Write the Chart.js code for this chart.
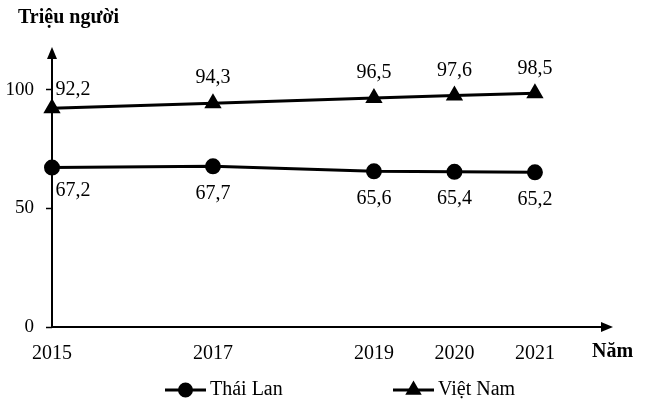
<!DOCTYPE html>
<html>
<head>
<meta charset="utf-8">
<script src="https://cdn.jsdelivr.net/npm/chart.js@4.4.0/dist/chart.umd.min.js"></script>
<style>
html,body{margin:0;padding:0;background:#fff;}
#wrap{width:649px;height:404px;position:relative;}
</style>
</head>
<body>
<div id="wrap"><canvas id="c" width="649" height="404"></canvas></div>
<script>
// ---- data ----
const years = [2015, 2017, 2019, 2020, 2021];
const thaiLan = [67.2, 67.7, 65.6, 65.4, 65.2];
const vietNam = [92.2, 94.3, 96.5, 97.6, 98.5];
const yTicks = [0, 50, 100];
const seriesNames = ['Thái Lan', 'Việt Nam'];
const yTitle = 'Triệu người';
const xTitle = 'Năm';

const FONT = '"Liberation Serif", "Times New Roman", serif';
const fmt = v => v.toFixed(1).replace('.', ',');

const axesPlugin = {
  id: 'axesArrows',
  afterDatasetsDraw(chart) {
    const ctx = chart.ctx, a = chart.chartArea;
    const x0 = a.left, y0 = a.bottom;
    ctx.save();
    ctx.strokeStyle = '#000'; ctx.fillStyle = '#000'; ctx.lineWidth = 2;
    ctx.beginPath();
    ctx.moveTo(x0, y0); ctx.lineTo(x0, a.top + 8);
    ctx.moveTo(x0, y0); ctx.lineTo(a.right - 8, y0);
    ctx.stroke();
    ctx.beginPath();
    ctx.moveTo(x0, a.top); ctx.lineTo(x0 - 5, a.top + 12); ctx.lineTo(x0 + 5, a.top + 12); ctx.closePath(); ctx.fill();
    ctx.beginPath();
    ctx.moveTo(a.right, y0); ctx.lineTo(a.right - 12, y0 - 5); ctx.lineTo(a.right - 12, y0 + 5); ctx.closePath(); ctx.fill();
    ctx.restore();
  },
  afterDraw(chart) {
    const ctx = chart.ctx;
    ctx.save();
    ctx.fillStyle = '#000';
    ctx.font = 'bold 20px ' + FONT;
    ctx.textBaseline = 'middle';
    ctx.textAlign = 'left';
    ctx.fillText(yTitle, 18, 18);
    ctx.fillText(xTitle, 592, 352);

    // data labels
    ctx.font = '20px ' + FONT;
    ctx.textAlign = 'center';
    chart.data.datasets.forEach((ds, di) => {
      const meta = chart.getDatasetMeta(di);
      meta.data.forEach((pt, i) => {
        const above = di === 1;
        let dx = 0, dy = above ? -25 : 27;
        if (i === 0) { dx = 21; dy = above ? -18 : 23; }
        ctx.fillText(fmt(ds.data[i].y), pt.x + dx, pt.y + dy);
      });
    });

    // legend
    const items = [{x: 165, ds: 0}, {x: 393, ds: 1}];
    const ly = 390;
    items.forEach(it => {
      const ds = chart.data.datasets[it.ds];
      ctx.strokeStyle = '#000'; ctx.fillStyle = '#000'; ctx.lineWidth = 3;
      ctx.beginPath(); ctx.moveTo(it.x, ly); ctx.lineTo(it.x + 41, ly); ctx.stroke();
      Chart.helpers.drawPoint(ctx, {pointStyle: ds.pointStyle, radius: ds.pointRadius - 0.5, borderWidth: 1}, it.x + 20.5, ly);
      ctx.fillStyle = '#000';
      ctx.font = '20px ' + FONT;
      ctx.textBaseline = 'middle';
      ctx.textAlign = 'left';
      ctx.fillText(ds.label, it.x + 45, ly);
    });
    ctx.restore();
  }
};

new Chart(document.getElementById('c'), {
  type: 'line',
  data: {
    datasets: [
      {
        label: seriesNames[0],
        data: years.map((y, i) => ({x: y, y: thaiLan[i]})),
        borderColor: '#000', backgroundColor: '#000', borderWidth: 3,
        pointStyle: 'circle', pointRadius: 6.5, pointBackgroundColor: '#000', pointBorderColor: '#000',
        tension: 0
      },
      {
        label: seriesNames[1],
        data: years.map((y, i) => ({x: y, y: vietNam[i]})),
        borderColor: '#000', backgroundColor: '#000', borderWidth: 3,
        pointStyle: 'triangle', pointRadius: 7, pointBackgroundColor: '#000', pointBorderColor: '#000',
        tension: 0
      }
    ]
  },
  options: {
    responsive: false,
    animation: false,
    clip: false,
    layout: {padding: {top: 47, right: 36, bottom: 32, left: 0}},
    plugins: {legend: {display: false}, tooltip: {enabled: false}},
    scales: {
      x: {
        type: 'linear',
        min: 2015, max: 2021.97,
        afterBuildTicks: s => { s.ticks = years.map(v => ({value: v})); },
        afterFit: s => { s.height = 45; },
        grid: {display: true, drawOnChartArea: false, drawTicks: false},
        border: {display: false},
        ticks: {color: '#000', font: {family: FONT, size: 20}, padding: 15, maxRotation: 0, autoSkip: false,
                callback: v => String(v)}
      },
      y: {
        min: 0, max: 118,
        afterBuildTicks: s => { s.ticks = yTicks.map(v => ({value: v})); },
        afterFit: s => { s.width = 52; },
        grid: {display: true, drawOnChartArea: false, drawTicks: true, tickLength: 6, color: '#000', tickWidth: 1.5},
        border: {display: false},
        ticks: {color: '#000', font: {family: FONT, size: 19}, padding: 12}
      }
    }
  },
  plugins: [axesPlugin]
});
</script>
</body>
</html>
